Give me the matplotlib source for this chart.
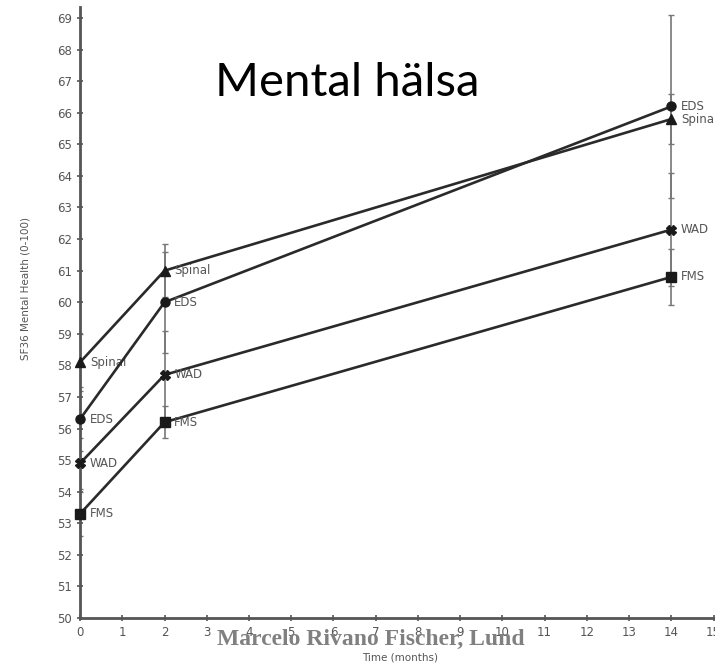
import numpy as np
import matplotlib.pyplot as plt

# SF36 mental health scores per diagnosis group at 0, 2 and 14 months
months = [0, 2, 14]
groups = ["Spinal", "EDS", "WAD", "FMS"]
spinal = [58.1, 61.0, 65.8]
eds = [56.3, 60.0, 66.2]
wad = [54.9, 57.7, 62.3]
fms = [53.3, 56.2, 60.8]
spinal_err = [0.9, 0.85, 0.8]
eds_err = [1.0, 1.6, 2.9]
wad_err = [0.8, 1.4, 1.8]
fms_err = [0.7, 0.5, 0.9]

values = dict(zip(groups, [spinal, eds, wad, fms]))
errors = dict(zip(groups, [spinal_err, eds_err, wad_err, fms_err]))
markers = {"Spinal": "^", "EDS": "o", "WAD": "X", "FMS": "s"}

line_col = "#2a2a2a"
text_col = "#555555"

fig = plt.figure(figsize=(7.15, 6.70), dpi=100)
ax = fig.add_axes([0.112, 0.0776, 0.886, 0.912])

for g in groups:
    ax.errorbar(months, values[g], yerr=errors[g], fmt="none",
                ecolor="#777777", elinewidth=1.2, capsize=2.5, capthick=1.0,
                zorder=2)
for g in groups:
    ax.plot(months, values[g], color=line_col, linewidth=1.9,
            marker=markers[g], markersize=6.5, markerfacecolor="#1a1a1a",
            markeredgecolor="#1a1a1a", zorder=3, clip_on=False)
    for x, y in zip(months, values[g]):
        ax.annotate(g, (x, y), xytext=(7, 0), textcoords="offset points",
                    ha="left", va="center", fontsize=8.5, color=text_col,
                    family="DejaVu Sans", annotation_clip=False)

ax.set_xlim(0, 15)
ax.set_ylim(50, 69.35)
ax.set_xticks(np.arange(0, 16))
ax.set_yticks(np.arange(50, 70))
ax.spines["top"].set_visible(False)
ax.spines["right"].set_visible(False)
for s in ("left", "bottom"):
    ax.spines[s].set_color("#555555")
    ax.spines[s].set_linewidth(2.0)
ax.tick_params(direction="inout", length=5, width=1.2, colors="#555555",
               labelsize=8.5, labelcolor=text_col)
for lab in ax.get_xticklabels() + ax.get_yticklabels():
    lab.set_family("DejaVu Sans")

fig.text(0.035, 0.57, "SF36 Mental Health (0-100)", rotation=90,
         ha="center", va="center", fontsize=7.5, color=text_col,
         family="DejaVu Sans")
fig.text(0.56, 0.019, "Time (months)", ha="center", va="center",
         fontsize=7.5, color=text_col, family="DejaVu Sans")
fig.text(0.486, 0.876, "Mental hälsa", ha="center", va="center",
         fontsize=34, color="black", family="Lato")
fig.text(0.519, 0.045, "Marcelo Rivano Fischer, Lund", ha="center",
         va="center", fontsize=17, color="#808080", weight="bold",
         family="Liberation Serif")

fig.savefig("out.png", dpi=100)
